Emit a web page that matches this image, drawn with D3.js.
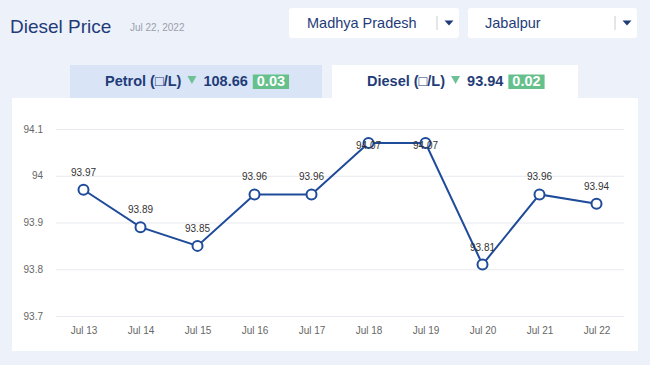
<!DOCTYPE html>
<html><head><meta charset="utf-8">
<script src="https://cdn.jsdelivr.net/npm/d3@7"></script>
<style>
html,body{margin:0;padding:0;background:#edf1fa;}
svg{display:block;font-family:"Liberation Sans",Arial,sans-serif;}
</style></head>
<body>
<svg id="c" width="650" height="365"></svg>
<script>
const dates = ["Jul 13","Jul 14","Jul 15","Jul 16","Jul 17","Jul 18","Jul 19","Jul 20","Jul 21","Jul 22"];
const prices = [93.97,93.89,93.85,93.96,93.96,94.07,94.07,93.81,93.96,93.94];
const yTicks = [93.7,93.8,93.9,94,94.1];
const title = "Diesel Price";
const dateLabel = "Jul 22, 2022";
const stateName = "Madhya Pradesh";
const cityName = "Jabalpur";
const tabNames = ["Petrol (\u25A1/L)","Diesel (\u25A1/L)"];
const tabPrices = ["108.66","93.94"];
const tabChanges = ["0.03","0.02"];

const svg = d3.select("#c");
svg.append("rect").attr("width",650).attr("height",365).attr("fill","#edf1fa");

// header
svg.append("text").attr("x",10).attr("y",33).attr("font-size",19).attr("fill","#1f3c78").text(title);
svg.append("text").attr("x",130).attr("y",31).attr("font-size",10).attr("fill","#9aa0aa").text(dateLabel);

// dropdowns
[[289,459,stateName],[468,637,cityName]].forEach(([x0,x1,t],i)=>{
  svg.append("rect").attr("x",x0).attr("y",8).attr("width",x1-x0).attr("height",30).attr("rx",3).attr("fill","#fff");
  svg.append("text").attr("x",x0+(i?17:18)).attr("y",28).attr("font-size",14.5).attr("fill","#1f3c78").text(t);
  svg.append("line").attr("x1",x1-22).attr("x2",x1-22).attr("y1",16).attr("y2",30).attr("stroke","#c8ccd4");
  const cx = x1-10;
  svg.append("path").attr("d",`M${cx-4.5},20.5L${cx+4.5},20.5L${cx},25.5Z`).attr("fill","#1f3c78");
});

// tabs
svg.append("rect").attr("x",70).attr("y",65).attr("width",252).attr("height",33).attr("fill","#dae4f7");
// panel
svg.append("rect").attr("x",12).attr("y",98).attr("width",626).attr("height",253).attr("fill","#fff");
svg.append("rect").attr("x",332).attr("y",65).attr("width",246).attr("height",36).attr("fill","#fff");

const tabStarts = [105,367];
tabNames.forEach((nm,i)=>{
  const g = svg.append("g").attr("font-weight","bold").attr("font-size",14.5);
  const t1 = g.append("text").attr("x",tabStarts[i]).attr("y",86).attr("fill","#1f3c78").text(nm);
  let x = tabStarts[i] + t1.node().getComputedTextLength() + 6;
  g.append("path").attr("d",`M${x},76L${x+9},76L${x+4.5},84Z`).attr("fill","#6cc296");
  x += 16;
  const t2 = g.append("text").attr("x",x).attr("y",86).attr("fill","#1f3c78").text(tabPrices[i]);
  x += t2.node().getComputedTextLength() + 5;
  const bt = g.append("text").attr("y",86).attr("fill","#fff").text(tabChanges[i]);
  const bw = bt.node().getComputedTextLength() + 8;
  g.insert("rect","text:last-child").attr("x",x).attr("y",74.5).attr("width",bw).attr("height",14.5).attr("fill","#66c08c");
  bt.attr("x",x+4).raise();
});

// chart
const x = d3.scalePoint().domain(dates).range([55,625]).padding(0.5);
const y = d3.scaleLinear().domain([93.7,94.1]).range([316,129]);

const gy = svg.append("g").attr("transform","translate(56,0)")
  .call(d3.axisLeft(y).tickValues(yTicks).tickSize(-568).tickFormat(d3.format("")));
gy.select(".domain").remove();
gy.selectAll(".tick line").attr("stroke","#e6e9ee");
gy.selectAll(".tick text").attr("x",-13).attr("fill","#666").attr("font-size",10).attr("font-family","Liberation Sans, Arial, sans-serif");

const gx = svg.append("g").attr("transform","translate(0,316)")
  .call(d3.axisBottom(x).tickSize(0).tickPadding(11));
gx.select(".domain").remove();
gx.selectAll(".tick text").attr("fill","#666").attr("font-size",10).attr("font-family","Liberation Sans, Arial, sans-serif");

svg.append("path").datum(prices.map((p,i)=>[dates[i],p]))
  .attr("fill","none").attr("stroke","#1e4b9a").attr("stroke-width",2)
  .attr("d",d3.line().x(d=>x(d[0])).y(d=>y(d[1])));

svg.selectAll("circle.pt").data(prices).enter().append("circle")
  .attr("cx",(d,i)=>x(dates[i])).attr("cy",d=>y(d))
  .attr("r",5).attr("fill","#fff").attr("stroke","#1e4b9a").attr("stroke-width",2);

svg.selectAll("text.lbl").data(prices).enter().append("text")
  .attr("x",(d,i)=>x(dates[i])).attr("text-anchor","middle")
  .attr("y",d=>{const cy=y(d); return cy-14 < 130 ? cy+6 : cy-14;})
  .attr("font-size",10).attr("fill","#333").text(d=>d3.format(".2f")(d));
</script>
</body></html>
